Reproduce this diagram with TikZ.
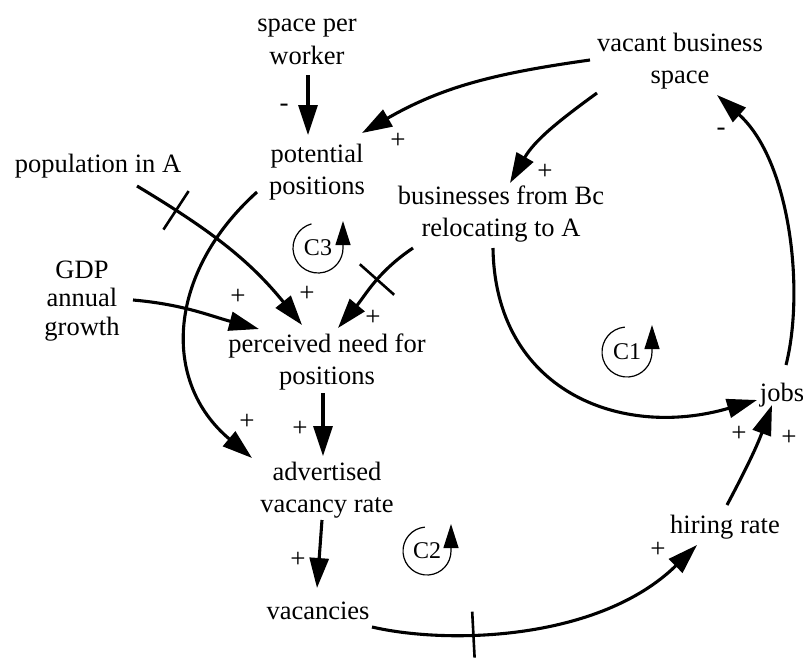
\documentclass[tikz,border=0pt]{standalone}
\usepackage{fontspec}
\setmainfont{Liberation Serif}
\usetikzlibrary{arrows.meta,decorations.markings}

\tikzset{
  var/.style={align=center, inner sep=0pt, font=\fontsize{26.5}{32.5}\selectfont},
  sign/.style={inner sep=0pt, font=\fontsize{27}{30}\selectfont},
  link/.style={line width=3.1pt, -{Triangle[length=30pt,width=19pt]}},
  loopmark/.style={line width=1.2pt, -{Triangle[length=24pt,width=15pt]}},
  looplabel/.style={inner sep=0pt, font=\fontsize{24}{28}\selectfont},
  cut/.style={postaction={decorate,decoration={markings,
      mark=at position #1 with {\draw[-,line width=2.6pt] (0pt,-23pt) -- (0pt,23pt);}}}}
}

\begin{document}
\begin{tikzpicture}[x=1pt,y=1pt]
  \useasboundingbox (0,0) rectangle (803,-659);
  %% variables
  \node[var] (spw) at (307,-42) {space per\\worker};
  \node[var] (vbs) at (680,-61) {vacant business\\space};
  \node[var] (pp) at (317,-172) {potential\\positions};
  \node[var] (pop) at (98,-166) {population in A};
  \node[var] (bus) at (501,-214) {businesses from Bc\\relocating to A};
  \node[var,font=\fontsize{26.5}{28.5}\selectfont] (gdp) at (82,-301) {GDP\\annual\\growth};
  \node[var] (pnp) at (327,-362) {perceived need for\\positions};
  \node[var] (jobs) at (782,-395) {jobs};
  \node[var] (avr) at (327,-490) {advertised\\vacancy rate};
  \node[var] (hr) at (725,-527) {hiring rate};
  \node[var] (vac) at (318,-611) {vacancies};

  %% links
  \draw[link] ([shift={(1,-33)}]spw.center) -- ([shift={(-9,37)}]pp.center);
  \draw[link] ([shift={(-90,1)}]vbs.center) to[out=188,in=30] ([shift={(45,39)}]pp.center);
  \draw[link] ([shift={(-83,-32)}]vbs.center) to[out=216,in=60] ([shift={(9,31)}]bus.center);
  \draw[link,cut=46pt] ([shift={(39,-20)}]pop.center) to[out=-31,in=129] ([shift={(-25,37)}]pnp.center);
  \draw[link] ([shift={(-60,-20)}]pp.center) to[out=222,in=140,looseness=1.15] ([shift={(-75,32)}]avr.center);
  \draw[link,cut=48pt] ([shift={(-88,-34)}]bus.center) to[out=214,in=50] ([shift={(11,34)}]pnp.center);
  \draw[link] ([shift={(51,1)}]gdp.center) to[out=-5,in=165] ([shift={(-68,33)}]pnp.center);
  \draw[link] ([shift={(-4,-31)}]pnp.center) -- ([shift={(-4,34)}]avr.center);
  \draw[link] ([shift={(-5,-30)}]avr.center) -- ([shift={(-1,23)}]vac.center);
  \draw[link] ([shift={(-8,-34)}]bus.center) .. controls +(2,-142) and +(-137,-40) .. ([shift={(-25,-5)}]jobs.center);
  \draw[link] ([shift={(4,30)}]jobs.center) .. controls +(19,75) and +(73,-65) .. ([shift={(37,-34)}]vbs.center);
  \draw[link] ([shift={(2,22)}]hr.center) to[out=62,in=250] ([shift={(-10,-10)}]jobs.center);
  \draw[link,cut=102pt] ([shift={(54,-16)}]vac.center) .. controls +(78,-18) and +(-97,-95) .. ([shift={(-28,-18)}]hr.center);

  %% polarities
  \node[sign] (s1) at (284,-108) {-};
  \node[sign] (s2) at (398,-141) {+};
  \node[sign] (s3) at (545,-172) {+};
  \node[sign] (s4) at (721,-132) {-};
  \node[sign] (s5) at (238,-297) {+};
  \node[sign] (s6) at (307,-294) {+};
  \node[sign] (s7) at (373,-318) {+};
  \node[sign] (s8) at (247,-422) {+};
  \node[sign] (s9) at (300,-429) {+};
  \node[sign] (s10) at (298,-560) {+};
  \node[sign] (s11) at (739,-434) {+};
  \node[sign] (s12) at (789,-438) {+};
  \node[sign] (s13) at (658,-550) {+};

  %% loops
  \node[looplabel] (c3) at (318,-248) {C3};
  \draw[loopmark] ([shift={(105:25pt)}]c3.center) arc[start angle=105,end angle=360,radius=25pt] -- ++(0,27);
  \node[looplabel] (c2) at (427,-551) {C2};
  \draw[loopmark] ([shift={(95:24pt)}]c2.center) arc[start angle=95,end angle=360,radius=24pt] -- ++(0,27);
  \node[looplabel] (c1) at (627,-352) {C1};
  \draw[loopmark] ([shift={(95:25pt)}]c1.center) arc[start angle=95,end angle=360,radius=25pt] -- ++(0,27);
\end{tikzpicture}
\end{document}
